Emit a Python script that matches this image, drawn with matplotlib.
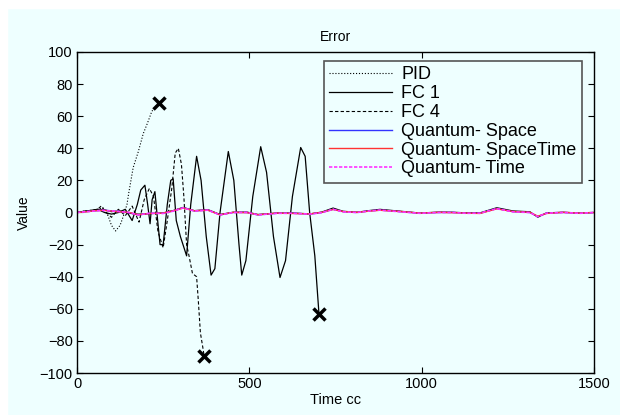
import matplotlib
matplotlib.use("Agg")
import matplotlib.pyplot as plt
from matplotlib.patches import Rectangle

plt.rcParams['font.family'] = ['Liberation Sans', 'DejaVu Sans']

# PID (dotted), ends in an x marker
pid_t = [0, 20, 40, 60, 75, 90, 100, 112, 125, 135, 145, 150, 163, 178, 192, 205, 217, 228, 238]
pid_v = [0, 1, 0.5, 2, 3, -2, -8, -11.5, -8, -2, 5, 12, 28, 38, 49, 56, 63, 66, 68.5]

# FC 1 (solid)
fc1_t = [0, 30, 60, 80, 100, 120, 140, 160, 175, 185, 197, 205, 212, 218, 226, 234, 241, 250,
         262, 272, 279, 288, 300, 318, 330, 347, 360, 375, 389, 400, 415, 439, 455, 470, 478,
         490, 510, 533, 550, 570, 589, 605, 625, 649, 662, 675, 690, 702]
fc1_v = [0, 1, 2, 0, -1, 0, 2, -5, 5, 14, 17, 5, -7, 8, 13, -5, -20, -20,
         5, 20, 21, -5, -15, -27, 5, 35, 20, -15, -39, -35, 0, 38, 20, -20, -39,
         -30, 10, 41, 25, -15, -40.5, -30, 10, 40.5, 35, 0, -27, -63]

# FC 4 (dashed)
fc4_t = [0, 30, 60, 70, 85, 100, 120, 140, 160, 180, 195, 210, 222, 235, 250, 262, 275, 285,
         294, 303, 310, 318, 325, 335, 347, 352, 358, 365, 369]
fc4_v = [0, 1, 2, 4, 0, -3, 2, -2, 4, -6, 8, 15, 10, -12, -22, -5, 15, 37,
         40, 30, 10, -20, -27, -38, -40, -55, -75, -84, -89.5]

# quantum controllers, all stay near zero
q_t = [0, 25, 50, 75, 100, 125, 150, 178, 210, 250, 280, 308, 340, 380, 415, 453, 493, 525,
       580, 627, 676, 710, 743, 772, 812, 850, 879, 940, 995, 1050, 1091, 1130, 1169, 1218,
       1265, 1314, 1337, 1362, 1410, 1459, 1500]
q_space = [0, 0.5, 1, 1.5, 1, 0.5, 0, -1.5, -0.5, -0.5, 1, 3, 1, 1.5, -1.5, 0, 0, -1.5,
           -0.5, -0.5, -1, 0, 2, 0.5, 0, 1, 1.5, 0.5, -0.5, 0, 0, -0.5, -0.5, 2.5,
           0.5, 0, -2.5, -0.5, 0, -0.5, 0]
q_spacetime = [0, 0.4, 1.1, 1.4, 0.9, 0.4, 0.1, -1.4, -0.6, -0.4, 1.1, 2.8, 1.1, 1.4, -1.4, 0.1, -0.1, -1.4,
               -0.4, -0.6, -0.9, 0.1, 1.9, 0.6, 0.1, 0.9, 1.4, 0.6, -0.4, 0.1, -0.1, -0.4, -0.6, 2.3,
               0.6, 0.1, -2.3, -0.6, 0.1, -0.4, 0]
q_time = [0, 0.5, 0.9, 1.3, 1.0, 0.6, 0.0, -1.5, -0.5, -0.6, 0.9, 2.9, 0.9, 1.5, -1.5, 0.0, 0.1, -1.5,
          -0.5, -0.5, -1.0, -0.1, 2.0, 0.4, 0.0, 1.0, 1.5, 0.4, -0.5, 0.0, 0.0, -0.5, -0.4, 2.4,
          0.4, 0.0, -2.6, -0.4, 0.0, -0.5, 0]
# black trace running along the quantum bundle
track_v = [0, 0.8, 1.2, 2, 0.5, 1, -0.5, -1, -0.8, -0.2, 1.3, 3.2, 1.2, 1.8, -1.2, 0.2, 0.3, -1.2,
           -0.3, -0.3, -0.8, 0.3, 2.8, 0.8, 0.2, 1.3, 2.0, 0.8, -0.3, 0.3, 0.2, -0.2, -0.2, 3.0,
           1.0, 0.5, -3.0, -0.2, 0.2, -0.3, 0]

bg = '#EEFFFF'
fig = plt.figure(figsize=(6.2, 4.15), dpi=100, facecolor=bg)
# white strip on the left and top edges
fig.patches.append(Rectangle((0, 0), 7 / 620, 1, transform=fig.transFigure, color='white', zorder=-1))
fig.patches.append(Rectangle((0, 1 - 8 / 415), 1, 8 / 415, transform=fig.transFigure, color='white', zorder=-1))

ax = fig.add_axes([77 / 620, 42 / 415, 517 / 620, 321 / 415], facecolor=bg)

ax.plot(q_t, track_v, color='black', lw=0.8)
ax.plot(pid_t, pid_v, color='black', lw=0.8, ls=':', label='PID')
ax.plot(fc1_t, fc1_v, color='black', lw=0.9, ls='-', label='FC 1')
ax.plot(fc4_t, fc4_v, color='black', lw=0.8, ls=(0, (3, 2)), label='FC 4')
ax.plot(q_t, q_space, color='#3333ff', lw=1.0, label='Quantum- Space')
ax.plot(q_t, q_spacetime, color='#ff3333', lw=1.0, label='Quantum- SpaceTime')
ax.plot(q_t, q_time, color='#ff33ff', lw=1.2, ls=(0, (2, 1)), label='Quantum- Time')

# end points marked with crosses
ax.plot(pid_t[-1], pid_v[-1], 'x', color='black', ms=8, mew=2.5)
ax.plot(fc1_t[-1], fc1_v[-1], 'x', color='black', ms=8, mew=2.5)
ax.plot(fc4_t[-1], fc4_v[-1], 'x', color='black', ms=8, mew=2.5)

ax.set_xlim(0, 1500)
ax.set_ylim(-100, 100)
ax.set_xticks([0, 500, 1000, 1500])
ax.set_yticks(range(-100, 101, 20))
ax.tick_params(direction='in', length=4, top=True, right=True, labelsize=10.5, pad=3)
for s in ax.spines.values():
    s.set_linewidth(1.0)

ax.set_title('Error', fontsize=10, pad=8)
ax.set_xlabel('Time cc', fontsize=10.5, labelpad=1)
ax.set_ylabel('Value', fontsize=10, labelpad=6)

leg = ax.legend(loc='upper right', bbox_to_anchor=(0.977, 0.972), fontsize=13, frameon=True,
                fancybox=False, edgecolor='#555555', facecolor=bg, framealpha=1,
                handlelength=3.5, handletextpad=0.5, labelspacing=0.1, borderpad=0.3,
                borderaxespad=0)
leg.get_frame().set_linewidth(1.2)

fig.savefig('out.png', dpi=100, facecolor=bg)
